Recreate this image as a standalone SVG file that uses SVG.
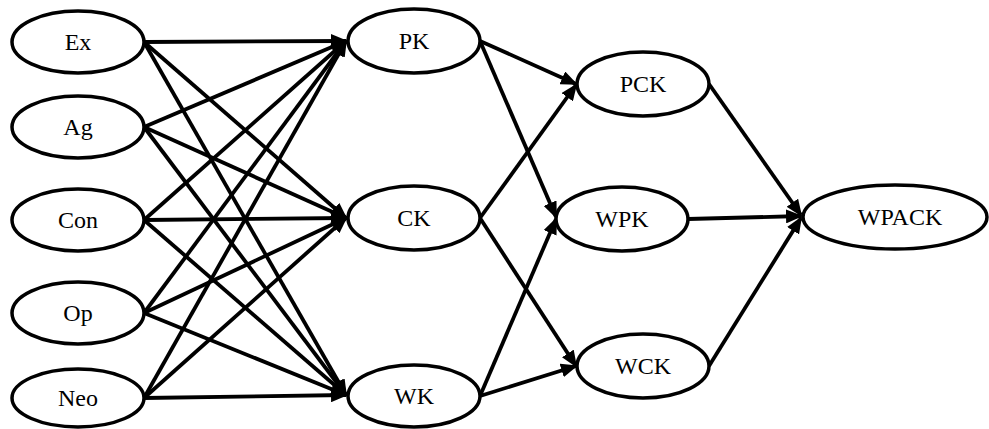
<svg xmlns="http://www.w3.org/2000/svg" width="989" height="429" viewBox="0 0 989 429">
<style>
.n ellipse{fill:#fff;stroke:#000;stroke-width:3.5}
.n text{font-family:"Liberation Serif","Times New Roman",serif;font-size:24px;fill:#000;text-anchor:middle}
#edges line{stroke:#000;stroke-width:3.8}
</style>
<defs>
<marker id="ah" markerUnits="userSpaceOnUse" markerWidth="17" markerHeight="14" viewBox="0 0 17 14" refX="15" refY="7" orient="auto">
<path d="M0,0 L17,7 L0,14 Z" fill="#000"/>
</marker>
</defs>
<rect width="989" height="429" fill="#fff"/>
<g id="edges">
<line x1="144" y1="42" x2="346" y2="41" marker-end="url(#ah)"/>
<line x1="144" y1="42" x2="346" y2="218" marker-end="url(#ah)"/>
<line x1="144" y1="42" x2="346" y2="395" marker-end="url(#ah)"/>
<line x1="144" y1="127" x2="346" y2="41" marker-end="url(#ah)"/>
<line x1="144" y1="127" x2="346" y2="218" marker-end="url(#ah)"/>
<line x1="144" y1="127" x2="346" y2="395" marker-end="url(#ah)"/>
<line x1="144" y1="220" x2="346" y2="41" marker-end="url(#ah)"/>
<line x1="144" y1="220" x2="346" y2="218" marker-end="url(#ah)"/>
<line x1="144" y1="220" x2="346" y2="395" marker-end="url(#ah)"/>
<line x1="144" y1="313" x2="346" y2="41" marker-end="url(#ah)"/>
<line x1="144" y1="313" x2="346" y2="218" marker-end="url(#ah)"/>
<line x1="144" y1="313" x2="346" y2="395" marker-end="url(#ah)"/>
<line x1="144" y1="398" x2="346" y2="41" marker-end="url(#ah)"/>
<line x1="144" y1="398" x2="346" y2="218" marker-end="url(#ah)"/>
<line x1="144" y1="398" x2="346" y2="395" marker-end="url(#ah)"/>
<line x1="480" y1="41" x2="576" y2="84" marker-end="url(#ah)"/>
<line x1="480" y1="41" x2="556" y2="217" marker-end="url(#ah)"/>
<line x1="480" y1="218" x2="576" y2="85" marker-end="url(#ah)"/>
<line x1="480" y1="218" x2="576" y2="366" marker-end="url(#ah)"/>
<line x1="480" y1="396" x2="556" y2="219" marker-end="url(#ah)"/>
<line x1="480" y1="396" x2="576" y2="366" marker-end="url(#ah)"/>
<line x1="709" y1="84" x2="801" y2="215" marker-end="url(#ah)"/>
<line x1="688" y1="219" x2="801" y2="216" marker-end="url(#ah)"/>
<line x1="709" y1="366" x2="801" y2="218" marker-end="url(#ah)"/>
</g>
<g id="Ex" class="n"><ellipse cx="78" cy="42" rx="66" ry="31"/><text x="78" y="50">Ex</text></g>
<g id="Ag" class="n"><ellipse cx="78" cy="127" rx="66" ry="31"/><text x="78" y="135">Ag</text></g>
<g id="Con" class="n"><ellipse cx="78" cy="220" rx="66" ry="31"/><text x="78" y="228">Con</text></g>
<g id="Op" class="n"><ellipse cx="78" cy="313" rx="66" ry="31"/><text x="78" y="321">Op</text></g>
<g id="Neo" class="n"><ellipse cx="78" cy="398" rx="66" ry="29"/><text x="78" y="406">Neo</text></g>
<g id="PK" class="n"><ellipse cx="414" cy="41" rx="66" ry="32"/><text x="414" y="49">PK</text></g>
<g id="CK" class="n"><ellipse cx="414" cy="218" rx="66" ry="32"/><text x="414" y="226">CK</text></g>
<g id="WK" class="n"><ellipse cx="414" cy="396" rx="66" ry="31"/><text x="414" y="404">WK</text></g>
<g id="PCK" class="n"><ellipse cx="643" cy="84" rx="66" ry="32"/><text x="643" y="92">PCK</text></g>
<g id="WPK" class="n"><ellipse cx="622" cy="219" rx="66" ry="32"/><text x="622" y="227">WPK</text></g>
<g id="WCK" class="n"><ellipse cx="643" cy="366" rx="66" ry="32"/><text x="643" y="374">WCK</text></g>
<g id="WPACK" class="n"><ellipse cx="895" cy="217" rx="92" ry="32"/><text x="900" y="225">WPACK</text></g>
</svg>
